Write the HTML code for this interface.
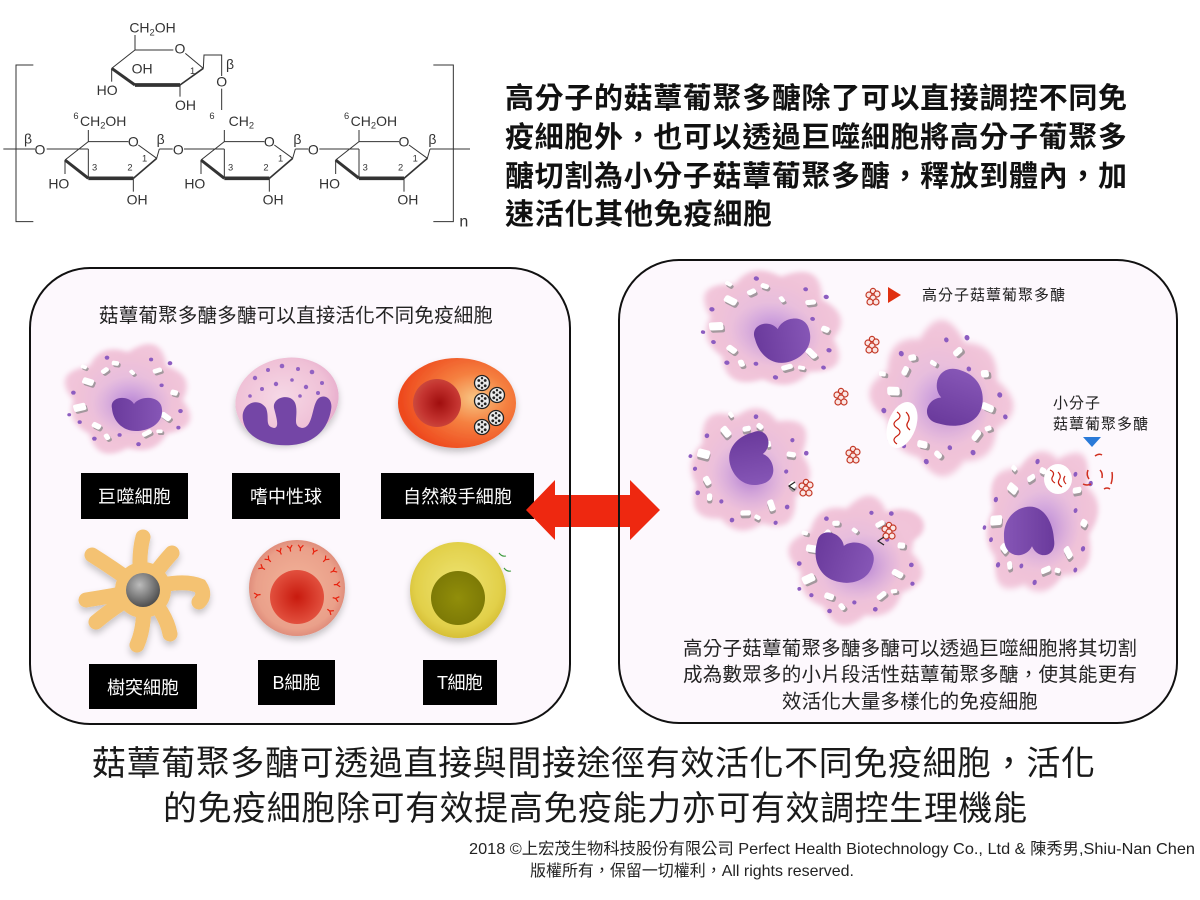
<!DOCTYPE html>
<html><head><meta charset="utf-8">
<style>
html,body{margin:0;padding:0;background:#fff;}
svg{display:block;}
text{font-family:"Liberation Sans","Noto Sans CJK TC",sans-serif;}
</style></head><body>
<svg width="1200" height="900" viewBox="0 0 1200 900" xmlns="http://www.w3.org/2000/svg" xmlns:xlink="http://www.w3.org/1999/xlink">
<defs>
 <filter id="blur3" x="-30%" y="-30%" width="160%" height="160%"><feGaussianBlur stdDeviation="2.5"/></filter>
 <filter id="shadow" x="-30%" y="-30%" width="160%" height="170%"><feDropShadow dx="0" dy="4" stdDeviation="3.5" flood-color="#000" flood-opacity="0.22"/></filter>
 <radialGradient id="macG">
   <stop offset="0" stop-color="#d8b0e4"/>
   <stop offset="0.4" stop-color="#e7bedd"/>
   <stop offset="0.75" stop-color="#f0c2d8"/>
   <stop offset="1" stop-color="#f2c6da"/>
 </radialGradient>
 <radialGradient id="glowG">
   <stop offset="0" stop-color="#a870cc" stop-opacity="0.75"/>
   <stop offset="1" stop-color="#c898dc" stop-opacity="0"/>
 </radialGradient>
 <linearGradient id="nucG" x1="0" y1="0" x2="1" y2="0">
   <stop offset="0" stop-color="#6a3a9c"/>
   <stop offset="1" stop-color="#8656b6"/>
 </linearGradient>
 <radialGradient id="neuG" cx="0.45" cy="0.45" r="0.6">
   <stop offset="0" stop-color="#f6d8e6"/>
   <stop offset="0.75" stop-color="#efc0d6"/>
   <stop offset="1" stop-color="#e6aacb"/>
 </radialGradient>
 <radialGradient id="nkG" cx="0.65" cy="0.45" r="0.62">
   <stop offset="0" stop-color="#f8c684"/>
   <stop offset="0.45" stop-color="#f58040"/>
   <stop offset="1" stop-color="#ee4a1e"/>
 </radialGradient>
 <radialGradient id="nkN" cx="0.55" cy="0.5" r="0.55">
   <stop offset="0" stop-color="#a00e0e"/>
   <stop offset="0.7" stop-color="#c43430"/>
   <stop offset="1" stop-color="#cc4a3e"/>
 </radialGradient>
 <radialGradient id="grayN" cx="0.4" cy="0.35" r="0.65">
   <stop offset="0" stop-color="#bcbcbc"/>
   <stop offset="1" stop-color="#505050"/>
 </radialGradient>
 <radialGradient id="bG" cx="0.5" cy="0.5" r="0.5">
   <stop offset="0" stop-color="#f3b49a"/>
   <stop offset="0.85" stop-color="#eaa08a"/>
   <stop offset="1" stop-color="#e08e7c"/>
 </radialGradient>
 <radialGradient id="bN" cx="0.5" cy="0.5" r="0.5">
   <stop offset="0" stop-color="#c81a0e"/>
   <stop offset="1" stop-color="#e2503e"/>
 </radialGradient>
 <radialGradient id="tG" cx="0.5" cy="0.45" r="0.55">
   <stop offset="0" stop-color="#eee472"/>
   <stop offset="0.8" stop-color="#e2d04a"/>
   <stop offset="1" stop-color="#d6bf36"/>
 </radialGradient>
 <radialGradient id="tN" cx="0.5" cy="0.5" r="0.5">
   <stop offset="0" stop-color="#918e0a"/>
   <stop offset="1" stop-color="#7d7a06"/>
 </radialGradient>

 <path id="nuc" d="M-24,-6 C-27,-22 -8,-25 -2,-12 C4,-24 26,-24 26,-4 C27,14 13,24 0,24 C-14,24 -23,10 -24,-6Z" fill="url(#nucG)"/>

 <g id="chips">
  <rect x="-5.5" y="-3.5" width="11" height="7" rx="2" transform="translate(-38,-20) rotate(20)"/>
  <rect x="-6" y="-4" width="12" height="8" rx="2" transform="translate(-46,8) rotate(-15)"/>
  <rect x="-4.5" y="-3" width="9" height="6" rx="2" transform="translate(-30,28) rotate(30)"/>
  <rect x="-4.5" y="-2.5" width="9" height="5" rx="2" transform="translate(28,-32) rotate(-20)"/>
  <rect x="-5.5" y="-3" width="11" height="6" rx="2" transform="translate(36,18) rotate(40)"/>
  <rect x="-3.5" y="-2.5" width="7" height="5" rx="2" transform="translate(-12,-40) rotate(10)"/>
  <rect x="-5" y="-2.5" width="10" height="5" rx="2" transform="translate(18,36) rotate(-30)"/>
  <rect x="-3.5" y="-3" width="7" height="6" rx="2" transform="translate(44,-8) rotate(15)"/>
  <rect x="-3" y="-2" width="6" height="4" rx="1.5" transform="translate(4,-30) rotate(50)"/>
  <rect x="-4" y="-2.5" width="8" height="5" rx="2" transform="translate(-22,-32) rotate(-40)"/>
  <rect x="-3" y="-2" width="6" height="4" rx="1.5" transform="translate(30,34)"/>
  <rect x="-3" y="-2" width="6" height="4" rx="1.5" transform="translate(-42,-36) rotate(25)"/>
  <rect x="-3.5" y="-2.5" width="7" height="5" rx="2" transform="translate(-20,40) rotate(60)"/>
 </g>

 <g id="macBody">
  <path d="M52,0 Q72.1,29.9 36.8,36.8 Q25.3,61 0,52 Q-29.1,70.2 -36.8,36.8 Q-59.1,24.5 -52,0 Q-73.9,-30.6 -36.8,-36.8 Q-26,-62.8 0,-52 Q31.4,-75.8 36.8,-36.8 Q64.7,-26.8 52,0Z" fill="url(#macG)" filter="url(#blur3)"/>
  <ellipse cx="4" cy="6" rx="38" ry="32" fill="url(#glowG)"/>
  <use xlink:href="#chips" href="#chips" fill="#8a8a8a" opacity="0.75" transform="translate(1.5,2)"/>
  <use xlink:href="#chips" href="#chips" fill="#ffffff"/>
  <g fill="#8c5cc0">
   <circle cx="-52" cy="-8" r="2.2"/><circle cx="-20" cy="-46" r="2.2"/><circle cx="40" cy="-40" r="2.2"/>
   <circle cx="50" cy="12" r="2.2"/><circle cx="-32" cy="42" r="2.2"/><circle cx="10" cy="48" r="2.2"/>
   <circle cx="-46" cy="24" r="2"/><circle cx="32" cy="-16" r="2"/><circle cx="-8" cy="38" r="2"/>
   <circle cx="22" cy="-44" r="2"/><circle cx="-56" cy="16" r="1.8"/><circle cx="48" cy="30" r="2"/>
  </g>
 </g>

 <g id="clump" fill="#fbe6e4" stroke="#c43a28" stroke-width="1.2">
  <circle cx="0" cy="-6" r="2.6"/><circle cx="4" cy="-3" r="3"/><circle cx="-4" cy="-2" r="3"/>
  <circle cx="0" cy="1" r="3"/><circle cx="3" cy="5" r="3"/><circle cx="-3" cy="5" r="3"/>
 </g>

 <g id="nkg">
  <circle r="7.5" fill="#ececec" stroke="#222" stroke-width="1.3"/>
  <g fill="#222">
   <circle cx="0" cy="0" r="1.4"/><circle cx="-3.2" cy="-2.5" r="1.4"/><circle cx="3.2" cy="-2.5" r="1.4"/>
   <circle cx="-3.2" cy="2.8" r="1.4"/><circle cx="3.2" cy="2.8" r="1.4"/><circle cx="0" cy="-4.8" r="1.2"/><circle cx="0" cy="4.8" r="1.2"/>
  </g>
 </g>

 <path id="ab" d="M0,3 V0 M0,0 L-2.6,-3.2 M0,0 L2.6,-3.2" stroke="#e8200c" stroke-width="1.2" fill="none"/>
</defs>

<rect width="1200" height="900" fill="#fff"/>

<!-- ============ Chemical structure ============ -->
<g transform="scale(0.333333)">
 <g stroke="#333" fill="none" stroke-width="3">
  <path d="M100,195 H48 V665 H100"/>
  <path d="M1300,195 H1360 V665 H1300"/>
  <path d="M405,105 V150 H520"/>
  <path d="M556,160 L610,205"/>
  <path d="M610,205 L540,255" stroke-width="5"/>
  <path d="M540,255 H405" stroke-width="11"/>
  <path d="M405,255 L335,205" stroke-width="9"/>
  <path d="M335,205 L405,150"/>
  <path d="M335,205 V245"/>
  <path d="M540,255 V290"/>
  <path d="M610,205 L612,165 H665 V228"/>
  <path d="M665,266 V330"/>
  <path d="M10,447 H105 M140,447 H265 M478,447 H518 M552,447 H673 M886,447 H925 M958,447 H1077 M1290,447 H1410"/>
 </g>
 <g fill="#333" font-size="42" font-family="Liberation Sans, sans-serif">
  <text x="388" y="98">CH<tspan font-size="28" dy="8">2</tspan><tspan dy="-8">OH</tspan></text>
  <text x="540" y="160" text-anchor="middle">O</text>
  <text x="395" y="220">OH</text>
  <text x="290" y="285">HO</text>
  <text x="525" y="330">OH</text>
  <text x="570" y="222" font-size="28">1</text>
  <text x="678" y="207">β</text>
  <text x="665" y="260" text-anchor="middle">O</text>
  <text x="120" y="464" text-anchor="middle">O</text>
  <text x="535" y="464" text-anchor="middle">O</text>
  <text x="940" y="464" text-anchor="middle">O</text>
  <text x="72" y="430">β</text>
  <text x="470" y="432">β</text>
  <text x="880" y="432">β</text>
  <text x="1285" y="432">β</text>
  <text x="1378" y="680" font-size="48">n</text>
 </g>
 <g id="ring1">
  <g stroke="#333" fill="none" stroke-width="3">
   <path d="M265,390 V425 H385"/>
   <path d="M415,435 L470,475 L478,447"/>
   <path d="M470,475 L400,535" stroke-width="5"/>
   <path d="M400,535 H265" stroke-width="11"/>
   <path d="M265,535 L195,480" stroke-width="9"/>
   <path d="M195,480 L265,425"/>
   <path d="M265,447 V535"/>
   <path d="M195,480 V522"/>
   <path d="M400,535 V575"/>
  </g>
  <g fill="#333" font-size="42" font-family="Liberation Sans, sans-serif">
   <text x="400" y="440" text-anchor="middle">O</text>
   <text x="145" y="566">HO</text>
   <text x="380" y="614">OH</text>
   <text x="276" y="512" font-size="28">3</text>
   <text x="382" y="512" font-size="28">2</text>
   <text x="426" y="484" font-size="28">1</text>
   <text x="220" y="357" font-size="28">6</text>
  </g>
 </g>
 <text x="240" y="378" fill="#333" font-size="42">CH<tspan font-size="28" dy="8">2</tspan><tspan dy="-8">OH</tspan></text>
 <use xlink:href="#ring1" href="#ring1" transform="translate(408,0)"/>
 <text x="686" y="378" fill="#333" font-size="42">CH<tspan font-size="28" dy="8">2</tspan></text>
 <use xlink:href="#ring1" href="#ring1" transform="translate(812,0)"/>
 <text x="1052" y="378" fill="#333" font-size="42">CH<tspan font-size="28" dy="8">2</tspan><tspan dy="-8">OH</tspan></text>
</g>

<!-- ============ Header text ============ -->
<g fill="#111" font-size="29" font-weight="bold">
 <text x="505" y="108" textLength="622">高分子的菇蕈葡聚多醣除了可以直接調控不同免</text>
 <text x="505" y="147" textLength="622">疫細胞外，也可以透過巨噬細胞將高分子葡聚多</text>
 <text x="505" y="186" textLength="622">醣切割為小分子菇蕈葡聚多醣，釋放到體內，加</text>
 <text x="505" y="224" textLength="267">速活化其他免疫細胞</text>
</g>

<!-- ============ Panels fill ============ -->
<rect x="30" y="268" width="540" height="456" rx="60" fill="#fdf8fd"/>
<rect x="619" y="260" width="558" height="463" rx="60" fill="#fdf8fd"/>

<!-- ============ Left panel cells ============ -->
<use xlink:href="#macBody" href="#macBody" transform="translate(128,400) scale(1.05,0.92)"/>
<use xlink:href="#nuc" href="#nuc" transform="translate(136,413) scale(1,0.75)"/>

<g filter="url(#shadow)">
 <ellipse cx="287" cy="400" rx="52" ry="42" fill="url(#neuG)" transform="rotate(-12 287 400)"/>
</g>
<g fill="#9262c2">
 <circle cx="255" cy="378" r="2.2"/><circle cx="268" cy="370" r="2"/><circle cx="282" cy="366" r="2.3"/>
 <circle cx="298" cy="369" r="2"/><circle cx="312" cy="372" r="2.3"/><circle cx="322" cy="383" r="2"/>
 <circle cx="262" cy="389" r="2"/><circle cx="276" cy="384" r="2.2"/><circle cx="292" cy="380" r="1.8"/>
 <circle cx="306" cy="387" r="2.2"/><circle cx="318" cy="393" r="2"/><circle cx="250" cy="396" r="1.8"/>
 <circle cx="300" cy="396" r="1.8"/>
</g>
<path d="M243,420 C240,404 258,396 266,408 C270,418 264,426 274,428 C280,428 276,416 274,408 C272,396 294,392 296,406 C298,418 292,426 302,428 C312,428 312,410 316,402 C320,392 334,396 331,410 C328,428 316,443 292,445 C268,447 246,438 243,420Z" fill="#7446a6"/>

<g filter="url(#shadow)">
 <ellipse cx="457" cy="403" rx="59" ry="45" fill="url(#nkG)"/>
</g>
<circle cx="437" cy="403" r="24" fill="url(#nkN)"/>
<use xlink:href="#nkg" href="#nkg" transform="translate(482,383)"/>
<use xlink:href="#nkg" href="#nkg" transform="translate(497,395)"/>
<use xlink:href="#nkg" href="#nkg" transform="translate(482,401)"/>
<use xlink:href="#nkg" href="#nkg" transform="translate(496,418)"/>
<use xlink:href="#nkg" href="#nkg" transform="translate(482,427)"/>

<g filter="url(#shadow)">
 <g stroke="#f4c272" stroke-width="15" stroke-linecap="round" fill="none">
  <path d="M143,590 Q137,560 143,537"/>
  <path d="M143,590 Q160,566 172,553"/>
  <path d="M143,590 Q182,578 200,586 Q206,595 199,602"/>
  <path d="M143,590 Q166,612 170,634"/>
  <path d="M143,590 Q146,625 137,645"/>
  <path d="M143,590 Q115,606 96,622"/>
  <path d="M143,590 Q112,596 86,600"/>
  <path d="M143,590 Q116,570 92,555"/>
 </g>
 <circle cx="143" cy="590" r="28" fill="#f4c272"/>
</g>
<circle cx="143" cy="590" r="17" fill="url(#grayN)"/>

<g filter="url(#shadow)">
 <circle cx="297" cy="588" r="48" fill="url(#bG)"/>
</g>
<circle cx="297" cy="597" r="27" fill="url(#bN)"/>
<g>
 <use xlink:href="#ab" href="#ab" transform="translate(262.4,568) rotate(-60)"/>
 <use xlink:href="#ab" href="#ab" transform="translate(268.7,559.7) rotate(-45)"/>
 <use xlink:href="#ab" href="#ab" transform="translate(280.1,551.8) rotate(-25)"/>
 <use xlink:href="#ab" href="#ab" transform="translate(290.1,548.6) rotate(-10)"/>
 <use xlink:href="#ab" href="#ab" transform="translate(300.5,548.2) rotate(5)"/>
 <use xlink:href="#ab" href="#ab" transform="translate(313.9,551.8) rotate(25)"/>
 <use xlink:href="#ab" href="#ab" transform="translate(325.3,559.7) rotate(45)"/>
 <use xlink:href="#ab" href="#ab" transform="translate(333.2,571.1) rotate(65)"/>
 <use xlink:href="#ab" href="#ab" transform="translate(336.8,584.5) rotate(85)"/>
 <use xlink:href="#ab" href="#ab" transform="translate(335.6,598.4) rotate(105)"/>
 <use xlink:href="#ab" href="#ab" transform="translate(329.8,611) rotate(125)"/>
 <use xlink:href="#ab" href="#ab" transform="translate(257.6,595) rotate(260)"/>
</g>

<g filter="url(#shadow)">
 <circle cx="458" cy="590" r="48" fill="url(#tG)"/>
</g>
<circle cx="458" cy="598" r="27" fill="url(#tN)"/>
<g stroke="#3c9a3c" stroke-width="1.1" fill="none">
 <path d="M499,553 q3,4 7,3"/>
 <path d="M504,568 q3,4 7,3"/>
</g>

<g fill="#000">
 <rect x="81" y="473" width="107" height="46"/>
 <rect x="232" y="473" width="108" height="46"/>
 <rect x="381" y="473" width="153" height="46"/>
 <rect x="89" y="664" width="108" height="45"/>
 <rect x="258" y="660" width="77" height="45"/>
 <rect x="423" y="660" width="74" height="45"/>
</g>
<g fill="#fff" font-size="18" text-anchor="middle">
 <text x="134.5" y="503" textLength="73">巨噬細胞</text>
 <text x="286" y="503" textLength="72">嗜中性球</text>
 <text x="457.5" y="503" textLength="109">自然殺手細胞</text>
 <text x="143" y="694" textLength="72">樹突細胞</text>
 <text x="296.5" y="689" textLength="48">B細胞</text>
 <text x="460" y="689" textLength="46">T細胞</text>
</g>

<text x="99" y="322" font-size="19.5" fill="#222" textLength="394">菇蕈葡聚多醣多醣可以直接活化不同免疫細胞</text>

<!-- ============ Right panel ============ -->
<use xlink:href="#macBody" href="#macBody" transform="translate(772,328) rotate(10) scale(1.2,1.0)"/>
<use xlink:href="#macBody" href="#macBody" transform="translate(942,400) rotate(-20) scale(1.12,1.25)"/>
<use xlink:href="#macBody" href="#macBody" transform="translate(749,470) rotate(30) scale(1.03,1.08)"/>
<ellipse cx="900" cy="526" rx="24" ry="17" fill="#f1c3d8" filter="url(#blur3)"/>
<use xlink:href="#macBody" href="#macBody" transform="translate(856,562) rotate(-10) scale(1.08,1.04)"/>
<use xlink:href="#macBody" href="#macBody" transform="translate(1041,522) rotate(15) scale(0.95,1.25)"/>

<use xlink:href="#nuc" href="#nuc" transform="translate(782,340) rotate(-10) scale(1.1,0.95)"/>
<use xlink:href="#nuc" href="#nuc" transform="translate(955,400) rotate(-70) scale(1.15)"/>
<use xlink:href="#nuc" href="#nuc" transform="translate(752,458) rotate(80) scale(1.05,0.95)"/>
<use xlink:href="#nuc" href="#nuc" transform="translate(842,558) rotate(20) scale(1.2,1.0)"/>
<use xlink:href="#nuc" href="#nuc" transform="translate(1030,533) rotate(180) scale(1.0,1.1)"/>

<ellipse cx="902" cy="425" rx="14" ry="24" fill="#fff" transform="rotate(20 902 425)"/>
<g stroke="#c82010" stroke-width="1.2" fill="none">
 <path d="M897,412 q6,4 0,8 q-6,4 0,8 q6,4 0,8 q-6,4 0,8"/>
 <path d="M906,412 q5,5 2,10 q-3,4 2,8"/>
</g>
<ellipse cx="1058" cy="479" rx="14" ry="15" fill="#fff"/>
<g stroke="#c82010" stroke-width="1.2" fill="none">
 <path d="M1050,470 q5,2 3,6 q-3,4 2,7"/>
 <path d="M1058,472 q4,4 1,8 q-2,4 3,7"/>
 <path d="M1065,476 q-3,4 1,8"/>
</g>

<use xlink:href="#clump" href="#clump" transform="translate(873,297)"/>
<use xlink:href="#clump" href="#clump" transform="translate(872,345)"/>
<use xlink:href="#clump" href="#clump" transform="translate(841,397)"/>
<use xlink:href="#clump" href="#clump" transform="translate(853,455)"/>
<use xlink:href="#clump" href="#clump" transform="translate(806,488)"/>
<use xlink:href="#clump" href="#clump" transform="translate(889,531)"/>
<g stroke="#222" stroke-width="1.2" fill="none">
 <path d="M795,482 L789,486 L795,490"/>
 <path d="M884,537 L878,541 L884,545"/>
</g>

<g stroke="#d03020" stroke-width="1.5" fill="none">
 <path d="M1095,456 q4,-3 7,-1"/>
 <path d="M1088,470 q-2,5 1,9"/>
 <path d="M1100,470 q3,3 2,8"/>
 <path d="M1112,472 q1,6 -1,12"/>
 <path d="M1083,484 q4,2 8,0"/>
 <path d="M1104,489 q3,-2 6,0"/>
</g>

<polygon points="888,287 901,295 888,303" fill="#e03010"/>
<polygon points="1083,437 1101,437 1092,447" fill="#2a7ad8"/>

<g fill="#222" font-size="15">
 <text x="922" y="300" textLength="143">高分子菇蕈葡聚多醣</text>
 <text x="1053" y="408" textLength="47">小分子</text>
 <text x="1053" y="429" textLength="95">菇蕈葡聚多醣</text>
</g>

<g fill="#222" font-size="19.5">
 <text x="683" y="655" textLength="454">高分子菇蕈葡聚多醣多醣可以透過巨噬細胞將其切割</text>
 <text x="683" y="681" textLength="454">成為數眾多的小片段活性菇蕈葡聚多醣，使其能更有</text>
 <text x="782" y="708" textLength="256">效活化大量多樣化的免疫細胞</text>
</g>

<polygon points="526,510 555,480 555,495 630,495 630,480 660,510 630,540 630,527 555,527 555,540" fill="#ee2810"/>

<rect x="30" y="268" width="540" height="456" rx="60" fill="none" stroke="#111" stroke-width="2"/>
<rect x="619" y="260" width="558" height="463" rx="60" fill="none" stroke="#111" stroke-width="2"/>

<g fill="#1a1a1a" font-size="34">
 <text x="92" y="775" textLength="1003">菇蕈葡聚多醣可透過直接與間接途徑有效活化不同免疫細胞，活化</text>
 <text x="163" y="820" textLength="864">的免疫細胞除可有效提高免疫能力亦可有效調控生理機能</text>
</g>
<g fill="#222" font-size="16">
 <text x="469" y="854" textLength="726" lengthAdjust="spacingAndGlyphs">2018 ©上宏茂生物科技股份有限公司 Perfect Health Biotechnology Co., Ltd &amp; 陳秀男,Shiu-Nan Chen</text>
 <text x="530" y="876" textLength="324" lengthAdjust="spacingAndGlyphs">版權所有，保留一切權利，All rights reserved.</text>
</g>
</svg>
</body></html>
